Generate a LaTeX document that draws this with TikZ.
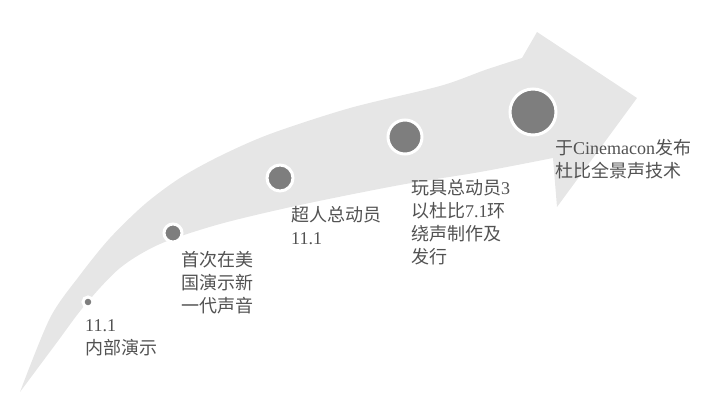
\documentclass[tikz,border=0pt]{standalone}
\usepackage{fontspec}
\setmainfont{Liberation Serif}
\newfontfamily\cjk{Noto Sans CJK SC}
\definecolor{bodygray}{HTML}{E6E6E6}
\definecolor{dotgray}{HTML}{7E7E7E}
\definecolor{textgray}{HTML}{525252}
\begin{document}
\begin{tikzpicture}[x=1pt,y=-1pt,
  dot/.style={fill=dotgray, draw=white, line width=3pt},
  milestone/.style={anchor=north west, inner sep=0pt, align=left, text=textgray,
    font=\fontsize{18}{23}\selectfont}]
 \useasboundingbox (0,0) rectangle (716,407);
 \fill[bodygray] plot[smooth] coordinates {(20,392) (50,318) (80,275) (110,238) (145,204) (180,178) (220,156) (270,134) (350,108) (440,86) (485,70) (522,58)}
   -- (537,32) -- (637,98) -- (557,207) -- (553,158)
   -- plot[smooth] coordinates {(553,158) (480,172) (400,185) (300,205) (220,224) (160,244) (120,268) (85,305) (55,345) (20,392)} -- cycle;
 \draw[dot] (88,302) circle (5);
 \draw[dot] (173,233) circle (9);
 \draw[dot] (280,178) circle (13);
 \draw[dot] (405,137) circle (17);
 \draw[dot] (533,112) circle (23);
 \node[milestone] (demo) at (85,319) {11.1\\{\cjk 内部演示}};
 \node[milestone] (us) at (181,251) {{\cjk 首次在美}\\{\cjk 国演示新}\\{\cjk 一代声音}};
 \node[milestone] (incred) at (291,206) {{\cjk 超人总动员}\\11.1};
 \node[milestone] (toy) at (411,179) {{\cjk 玩具总动员}3\\{\cjk 以杜比}7.1{\cjk 环}\\{\cjk 绕声制作及}\\{\cjk 发行}};
 \node[milestone] (atmos) at (555,139) {{\cjk 于}Cinemacon{\cjk 发布}\\{\cjk 杜比全景声技术}};
\end{tikzpicture}
\end{document}
